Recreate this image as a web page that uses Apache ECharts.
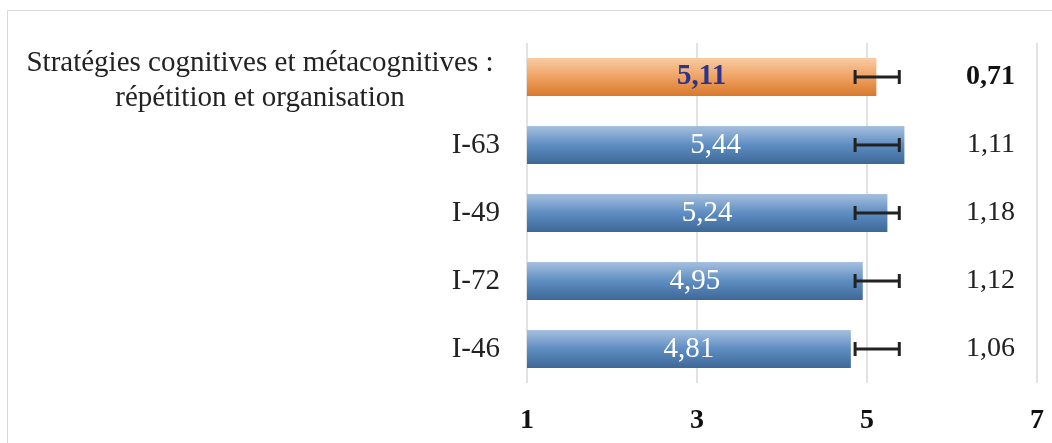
<!DOCTYPE html>
<html>
<head>
<meta charset="utf-8">
<script src="https://cdn.jsdelivr.net/npm/echarts@6/dist/echarts.min.js"></script>
<style>
  html, body { margin: 0; padding: 0; background: #fff; }
  #chart { width: 1052px; height: 443px; }
</style>
</head>
<body>
<div id="chart"></div>
<script>
// Items, top to bottom
const categories = [
  'Stratégies cognitives et métacognitives :\nrépétition et organisation',
  'I-63', 'I-49', 'I-72', 'I-46'
];
// Mean scores
const means = [5.11, 5.44, 5.24, 4.95, 4.81];
// Standard deviations shown in the right column
const stdDevs = [0.71, 1.11, 1.18, 1.12, 1.06];
// Error bar extents
const errLow = [4.86, 4.86, 4.86, 4.86, 4.86];
const errHigh = [5.38, 5.38, 5.38, 5.38, 5.38];
// Value axis ticks
const xTicks = [1, 3, 5, 7];

const FONT = '"Liberation Serif", "Times New Roman", serif';
const FS = 29;
const fmt = v => v.toFixed(2).replace('.', ',');

const blueGrad = new echarts.graphic.LinearGradient(0, 0, 0, 1, [
  { offset: 0, color: '#A6C0DE' },
  { offset: 0.5, color: '#5E8DC2' },
  { offset: 1, color: '#3D6898' }
]);
const orangeGrad = new echarts.graphic.LinearGradient(0, 0, 0, 1, [
  { offset: 0, color: '#F9CBA3' },
  { offset: 0.5, color: '#EFA263' },
  { offset: 1, color: '#D8782A' }
]);

const barData = means.map((v, i) => i === 0 ? {
  value: v,
  itemStyle: { color: orangeGrad },
  label: { color: '#2B3590', fontWeight: 'bold' }
} : { value: v });

const chart = echarts.init(document.getElementById('chart'));
chart.setOption({
  animation: false,
  backgroundColor: '#fff',
  graphic: [{
    type: 'rect',
    shape: { x: 7.5, y: 10.5, width: 1060, height: 450 },
    style: { fill: 'none', stroke: '#D9D9D9', lineWidth: 1 },
    silent: true
  }],
  grid: { left: 527, right: 15, top: 43, bottom: 60 },
  xAxis: {
    type: 'value',
    min: xTicks[0],
    max: xTicks[xTicks.length - 1],
    interval: 2,
    axisLine: { show: false },
    axisTick: { show: false },
    splitLine: { show: true, lineStyle: { color: '#D9D9D9', width: 1.5 } },
    axisLabel: {
      fontFamily: FONT, fontSize: 28, fontWeight: 'bold', color: '#111',
      margin: 24
    }
  },
  yAxis: [{
    type: 'category',
    data: categories,
    inverse: true,
    axisLine: { show: false },
    axisTick: { show: false },
    axisLabel: {
      margin: 27,
      fontFamily: FONT, fontSize: FS, color: '#222',
      formatter: (v) => v.includes('\n')
        ? v.split('\n').map(s => '{c|' + s + '}').join('\n')
        : v,
      rich: {
        c: { width: 480, align: 'center', fontFamily: FONT, fontSize: FS, color: '#222', lineHeight: 35, padding: [8, 0, 0, 0] }
      }
    }
  }, {
    type: 'category',
    data: stdDevs.map(fmt),
    inverse: true,
    position: 'right',
    axisLine: { show: false },
    axisTick: { show: false },
    axisLabel: {
      inside: true,
      margin: 22,
      align: 'right',
      fontFamily: FONT, fontSize: 28, color: '#222',
      formatter: (v, i) => i === 0 ? '{b|' + v + '}' : v,
      rich: { b: { fontFamily: FONT, fontSize: 28, fontWeight: 'bold', color: '#111' } }
    }
  }],
  series: [{
    type: 'bar',
    data: barData,
    barWidth: 38,
    itemStyle: { color: blueGrad },
    label: {
      show: true,
      position: 'inside',
      fontFamily: FONT, fontSize: FS, color: '#fff',
      formatter: p => fmt(p.value)
    }
  }, {
    type: 'custom',
    data: errLow.map((lo, i) => [lo, errHigh[i], i]),
    renderItem: (params, api) => {
      const y = api.value(2);
      const a = api.coord([api.value(0), y]);
      const b = api.coord([api.value(1), y]);
      const cap = 7;
      const style = { stroke: '#222', lineWidth: 3, fill: 'none' };
      return {
        type: 'group',
        children: [
          { type: 'line', shape: { x1: a[0], y1: a[1], x2: b[0], y2: b[1] }, style },
          { type: 'line', shape: { x1: a[0], y1: a[1] - cap, x2: a[0], y2: a[1] + cap }, style },
          { type: 'line', shape: { x1: b[0], y1: b[1] - cap, x2: b[0], y2: b[1] + cap }, style }
        ]
      };
    },
    encode: { x: [0, 1], y: 2 },
    z: 5
  }]
});
</script>
</body>
</html>
